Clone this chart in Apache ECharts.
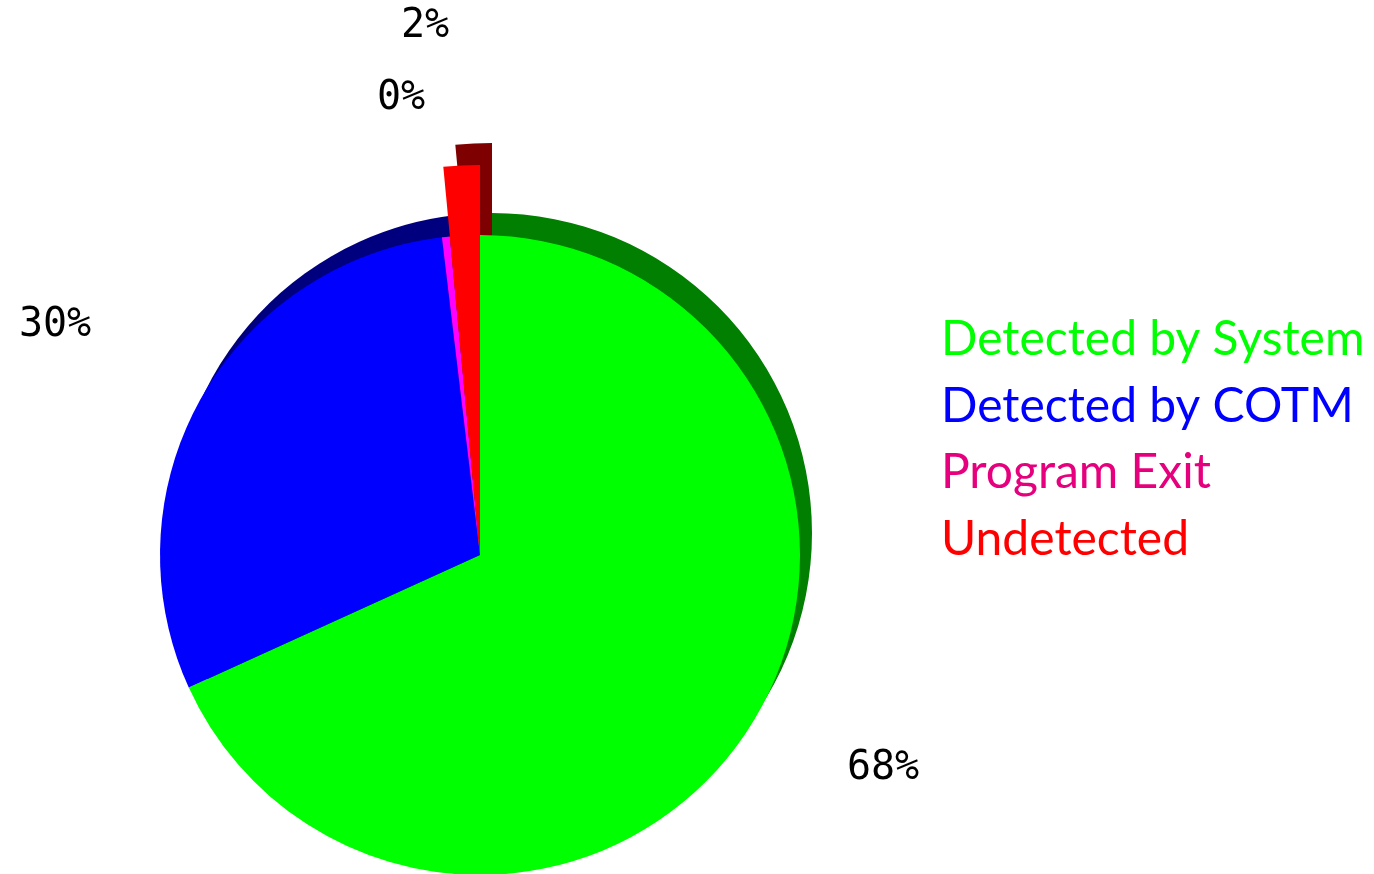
<!DOCTYPE html>
<html>
<head>
<meta charset="utf-8">
<title>Fault detection breakdown</title>
<script src="https://cdn.jsdelivr.net/npm/echarts@6/dist/echarts.min.js"></script>
<style>
  html, body { margin: 0; padding: 0; background: #ffffff; }
  #chart { width: 1374px; height: 874px; }
</style>
</head>
<body>
<div id="chart"></div>
<script>
// Outcome categories and their share of all runs (percent)
const CATEGORIES = ['Detected by System', 'Detected by COTM', 'Program Exit', 'Undetected'];
const SHARES = [68.2, 29.9, 0.4, 1.5];

// Face and side (depth) colours for each slice, plus legend text colours
const FACE_COLORS = ['#00ff00', '#0000ff', '#ff00ff', '#ff0000'];
const SIDE_COLORS = ['#007f00', '#00007f', '#7f007f', '#7f0000'];
const LEGEND_COLORS = ['#00ff00', '#0000ff', '#e6007e', '#ff0000'];

// Layout
const CENTER = [480, 555];
const DEPTH = [12, -22];          // offset of the raised side layer
const RADIUS = 320;               // regular slice radius
const PULLED_RADIUS = 390;        // the pulled-up "Undetected" wedge
const PULLED = 'Undetected';
const LABEL_ANCHORS = [[883, 769], [55, 326], [401, 99], [425, 27]];

function pie(center, radius, colors, only, withLabels) {
  return {
    type: 'pie',
    center: center,
    radius: [0, radius],
    startAngle: 90,
    clockwise: true,
    silent: !withLabels,
    animation: false,
    avoidLabelOverlap: false,
    emphasis: { disabled: true },
    itemStyle: { borderWidth: 0 },
    labelLine: { show: false },
    label: withLabels ? {
      show: true,
      position: 'outside',
      formatter: p => Math.round(p.percent) + '%',
      fontFamily: 'DejaVu Sans Mono',
      fontSize: 40,
      color: '#000000'
    } : { show: false },
    labelLayout: withLabels ? (params) => {
      const a = LABEL_ANCHORS[params.dataIndex];
      return { x: a[0], y: a[1], align: 'center', verticalAlign: 'middle', hideOverlap: false };
    } : undefined,
    data: CATEGORIES.map((name, i) => ({
      name: name,
      value: SHARES[i],
      itemStyle: {
        color: (only === null || only === name) ? colors[i] : 'rgba(0,0,0,0)'
      }
    }))
  };
}

const sideCenter = [CENTER[0] + DEPTH[0], CENTER[1] + DEPTH[1]];

const chart = echarts.init(document.getElementById('chart'), null, { renderer: 'canvas' });
chart.setOption({
  backgroundColor: '#ffffff',
  animation: false,
  legend: {
    orient: 'vertical',
    left: 931,
    top: 311,
    icon: 'none',
    itemWidth: 0,
    itemHeight: 48,
    itemGap: 18.5,
    selectedMode: false,
    textStyle: { fontFamily: 'Lato', fontSize: 48 },
    data: CATEGORIES.map((name, i) => ({
      name: name,
      icon: 'none',
      textStyle: { color: LEGEND_COLORS[i], fontFamily: 'Lato', fontSize: 48 }
    }))
  },
  series: [
    pie(sideCenter, RADIUS, SIDE_COLORS, null, false),
    pie(sideCenter, PULLED_RADIUS, SIDE_COLORS, PULLED, false),
    pie(CENTER, RADIUS, FACE_COLORS, null, false),
    pie(CENTER, PULLED_RADIUS, FACE_COLORS, PULLED, false),
    Object.assign(pie(CENTER, RADIUS, FACE_COLORS, '__none__', true), { z: 5 })
  ]
});
</script>
</body>
</html>
